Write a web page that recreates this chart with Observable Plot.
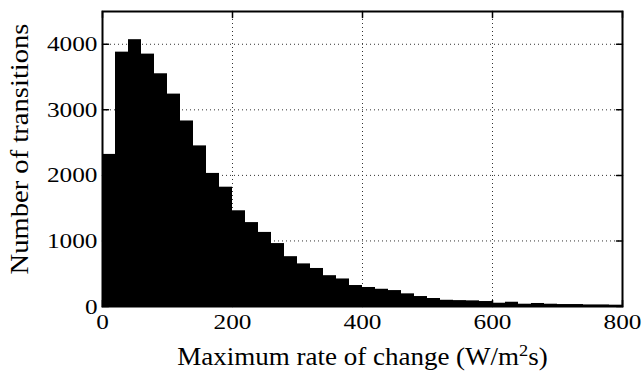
<!DOCTYPE html>
<html>
<head>
<meta charset="utf-8">
<script src="https://cdn.jsdelivr.net/npm/d3@7"></script>
<script src="https://cdn.jsdelivr.net/npm/@observablehq/plot@0.6"></script>
<style>
  html, body { margin: 0; padding: 0; background: #fff; }
  svg text { font-family: "Liberation Serif", "Times New Roman", Times, serif; }
</style>
</head>
<body>
<div id="chart"></div>
<script>
// Histogram bins (W/m^2 s), width 20
const binStart = [0, 20, 40, 60, 80, 100, 120, 140, 160, 180,
  200, 220, 240, 260, 280, 300, 320, 340, 360, 380,
  400, 420, 440, 460, 480, 500, 520, 540, 560, 580,
  600, 620, 640, 660, 680, 700, 720, 740, 760, 780];
const binWidth = 20;
const counts = [2320, 3880, 4070, 3850, 3550, 3240, 2830, 2450, 2030, 1820,
  1460, 1280, 1130, 960, 760, 650, 580, 470, 420, 320,
  290, 263, 243, 193, 152, 122, 95, 90, 86, 76,
  50, 65, 35, 46, 35, 30, 30, 24, 24, 20];
const xTicks = [0, 200, 400, 600, 800];
const yTicks = [0, 1000, 2000, 3000, 4000];
const xGrid = [200, 400, 600];
const yGrid = [1000, 2000, 3000, 4000];
const xLabelMain = "Maximum rate of change (W/m";
const xLabelSup = "2";
const xLabelEnd = "s)";
const yLabel = "Number of transitions";

const bins = binStart.map((s, i) => ({x1: s, x2: s + binWidth, count: counts[i]}));

const tickShape = {draw(ctx, l) { ctx.moveTo(0, 0); ctx.lineTo(0, -l); }};
const tickLen = 6;
const serif = "Liberation Serif, Times New Roman, serif";

const chart = Plot.plot({
  width: 644,
  height: 373,
  marginLeft: 102,
  marginRight: 22,
  marginTop: 11,
  marginBottom: 67,
  x: {domain: [0, 800]},
  y: {domain: [0, 4500]},
  style: {fontFamily: serif, fontSize: "22px", color: "black", background: "white", overflow: "visible"},
  marks: [
    Plot.ruleX(xGrid, {x: d => d, stroke: "#333", strokeDasharray: "1,3"}),
    Plot.ruleY(yGrid, {y: d => d, stroke: "#333", strokeDasharray: "1,3"}),
    Plot.rectY(bins, {x1: "x1", x2: "x2", y: "count", fill: "black", inset: 0}),
    Plot.frame({stroke: "black", strokeWidth: 2}),
    Plot.vector(xTicks, {x: d => d, frameAnchor: "bottom", length: tickLen, rotate: 0, anchor: "start", shape: tickShape, stroke: "black", strokeWidth: 1.5}),
    Plot.vector(xTicks, {x: d => d, frameAnchor: "top", length: tickLen, rotate: 180, anchor: "start", shape: tickShape, stroke: "black", strokeWidth: 1.5}),
    Plot.vector(yTicks, {y: d => d, frameAnchor: "left", length: tickLen, rotate: 90, anchor: "start", shape: tickShape, stroke: "black", strokeWidth: 1.5}),
    Plot.vector(yTicks, {y: d => d, frameAnchor: "right", length: tickLen, rotate: -90, anchor: "start", shape: tickShape, stroke: "black", strokeWidth: 1.5}),
    Plot.axisX(xTicks, {tickSize: 0, tickPadding: 7, label: null, fontSize: 22, tickFormat: d3.format("d"), fontFamily: serif, className: "tickx"}),
    Plot.axisY(yTicks, {tickSize: 0, tickPadding: 5, label: null, fontSize: 22, tickFormat: d3.format("d"), fontFamily: serif, className: "ticky"}),
    Plot.text([xLabelMain + xLabelSup + xLabelEnd], {text: d => d, frameAnchor: "bottom", dy: 58, fontSize: 25, textAnchor: "middle", fontFamily: serif, className: "xlab"}),
    Plot.text([yLabel], {text: d => d, frameAnchor: "left", dx: -83, dy: -10, rotate: -90, fontSize: 26, textAnchor: "middle", fontFamily: serif, className: "ylab"})
  ]
});
document.getElementById("chart").appendChild(chart);

// Real superscript for m²
const xl = chart.querySelector(".xlab text");
if (xl) {
  xl.textContent = "";
  const ns = "http://www.w3.org/2000/svg";
  const t1 = document.createElementNS(ns, "tspan"); t1.textContent = xLabelMain;
  const t2 = document.createElementNS(ns, "tspan"); t2.textContent = xLabelSup;
  t2.setAttribute("font-size", "17"); t2.setAttribute("dy", "-9");
  const t3 = document.createElementNS(ns, "tspan"); t3.textContent = xLabelEnd;
  t3.setAttribute("dy", "9");
  xl.append(t1, t2, t3);
}
// Slight horizontal widening to match the reference's stretched lettering
function widen(sel, k) {
  chart.querySelectorAll(sel).forEach(t => {
    const len = t.getComputedTextLength();
    if (len > 0) { t.setAttribute("textLength", (len * k).toFixed(1)); t.setAttribute("lengthAdjust", "spacingAndGlyphs"); }
  });
}
widen(".tickx text", 1.15);
widen(".ticky text", 1.15);
widen(".xlab text", 1.08);
widen(".ylab text", 1.1);
</script>
</body>
</html>
